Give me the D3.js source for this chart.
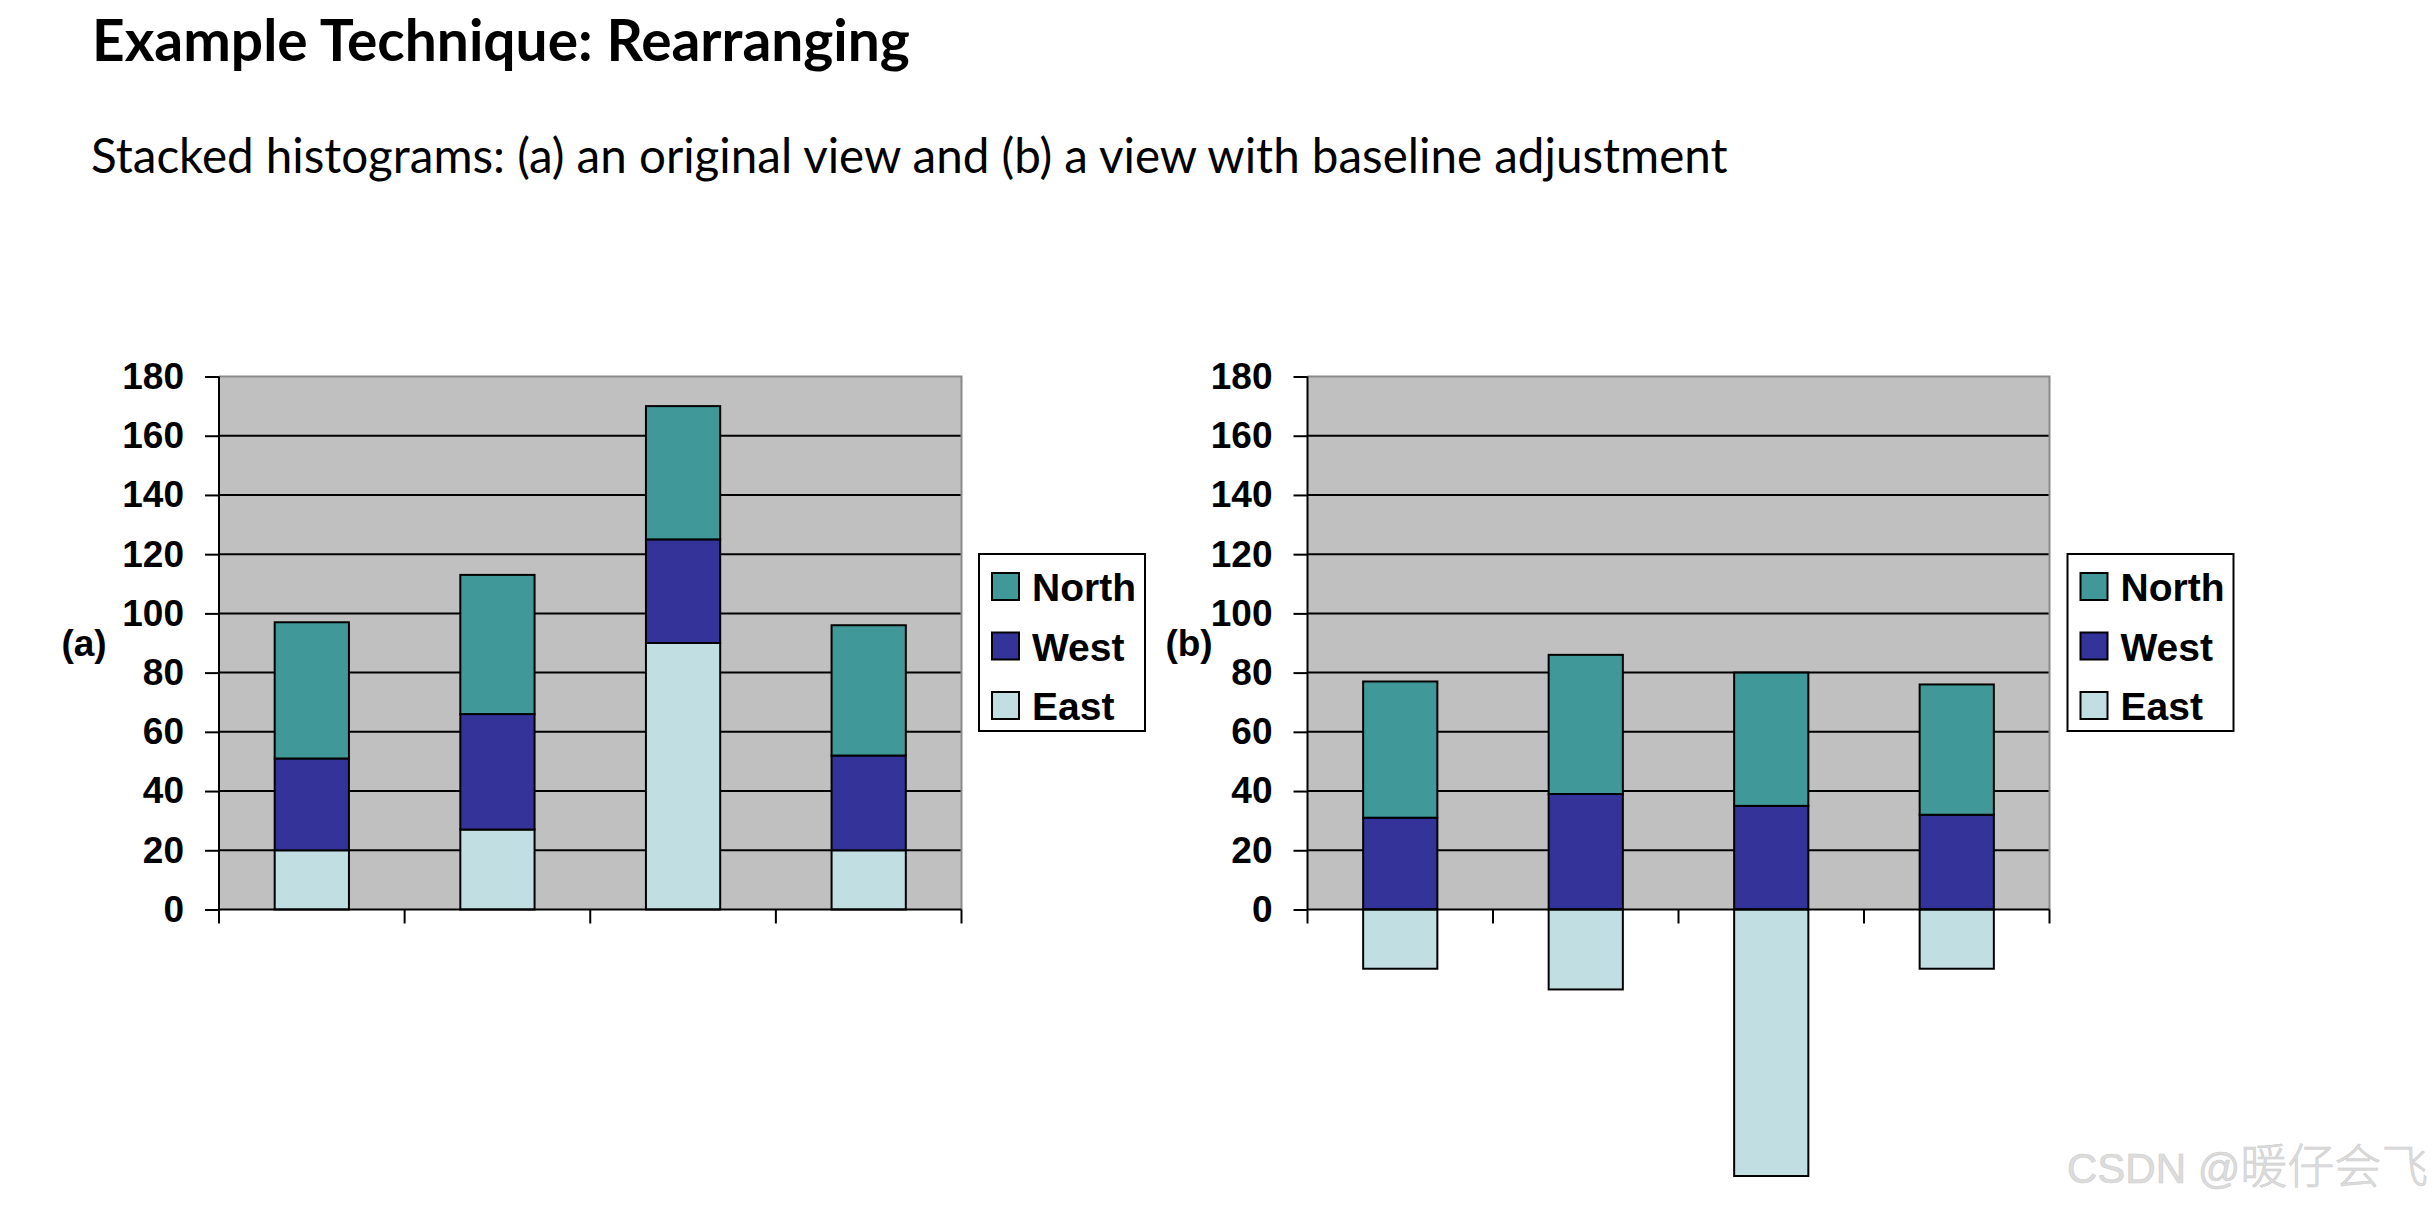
<!DOCTYPE html>
<html>
<head>
<meta charset="utf-8">
<script src="https://cdn.jsdelivr.net/npm/d3@7"></script>
<style>
  html, body { margin: 0; padding: 0; background: #ffffff; }
  svg { display: block; }
</style>
</head>
<body>
<script>
// ---------- data ----------
const categories = ["Q1", "Q2", "Q3", "Q4"];
const eastValues  = [20, 27, 90, 20];
const westValues  = [31, 39, 35, 32];
const northValues = [46, 47, 45, 44];
const yTickValues = [0, 20, 40, 60, 80, 100, 120, 140, 160, 180];
const legendLabels = ["North", "West", "East"];
const titleText = "Example Technique: Rearranging";
const subtitleText = "Stacked histograms: (a) an original view and (b) a view with baseline adjustment";
const panelLabels = ["(a)", "(b)"];
const watermarkLatin = "CSDN @";
const watermarkCJK = "暖仔会飞";

// ---------- styles ----------
const colors = { North: "#419898", West: "#333399", East: "#c1dfe3" };
const W = 2436, H = 1210;
const chartFont = "'Liberation Sans', Arial, sans-serif";

const svg = d3.select("body").append("svg")
  .attr("width", W).attr("height", H)
  .attr("viewBox", `0 0 ${W} ${H}`);
svg.append("rect").attr("width", W).attr("height", H).attr("fill", "#ffffff");

function fitText(sel, targetWidth) {
  const node = sel.node();
  const fs = parseFloat(sel.attr("font-size"));
  const w = node.getComputedTextLength();
  if (w > 0) sel.attr("font-size", (fs * targetWidth / w).toFixed(2));
}

// ---------- titles ----------
const title = svg.append("text")
  .attr("x", 92).attr("y", 61)
  .attr("font-family", "Lato, 'Open Sans', sans-serif")
  .attr("font-weight", 700).attr("font-size", 58)
  .attr("fill", "#000").text(titleText);
fitText(title, 818);

const subtitle = svg.append("text")
  .attr("x", 91).attr("y", 173)
  .attr("font-family", "Lato, 'Open Sans', sans-serif")
  .attr("font-weight", 400).attr("font-size", 48)
  .attr("fill", "#000").text(subtitleText);
fitText(subtitle, 1637);

// ---------- data rows ----------
const rows = categories.map((c, i) => ({
  cat: c, East: eastValues[i], West: westValues[i], North: northValues[i]
}));
const rowsNeg = categories.map((c, i) => ({
  cat: c, East: -eastValues[i], West: westValues[i], North: northValues[i]
}));

const stackA = d3.stack().keys(["East", "West", "North"])(rows);
const stackB = d3.stack().keys(["West", "North", "East"])
  .offset(d3.stackOffsetDiverging)(rowsNeg);

// ---------- panel drawer ----------
function drawPanel(opts) {
  const { left, right, top, bottom, stacked, label, labelX, legendX } = opts;
  const g = svg.append("g");

  const x = d3.scaleBand().domain(categories).range([left, right])
    .paddingInner(0.6).paddingOuter(0.3);
  const y = d3.scaleLinear().domain([0, 180]).range([bottom, top]);

  // plot background
  g.append("rect")
    .attr("x", left).attr("y", top)
    .attr("width", right - left).attr("height", bottom - top)
    .attr("fill", "#c0c0c0");

  // gridlines
  g.append("g").selectAll("line")
    .data(yTickValues.filter(v => v > 0 && v < 180))
    .join("line")
    .attr("x1", left).attr("x2", right)
    .attr("y1", d => y(d)).attr("y2", d => y(d))
    .attr("stroke", "#000").attr("stroke-width", 2);

  // top and right border (gray)
  g.append("path")
    .attr("d", `M${left},${y(180)}H${right}V${bottom}`)
    .attr("fill", "none").attr("stroke", "#8a8a8a").attr("stroke-width", 2);

  // bars
  const layers = g.append("g").selectAll("g")
    .data(stacked).join("g")
    .attr("fill", d => colors[d.key]);
  layers.selectAll("rect")
    .data(d => d.map(s => ({ s, cat: s.data.cat })))
    .join("rect")
    .attr("x", d => x(d.cat))
    .attr("width", x.bandwidth())
    .attr("y", d => y(Math.max(d.s[0], d.s[1])))
    .attr("height", d => Math.abs(y(d.s[0]) - y(d.s[1])))
    .attr("stroke", "#000").attr("stroke-width", 2);

  // y axis
  const yAxis = d3.axisLeft(y).tickValues(yTickValues)
    .tickSize(14).tickPadding(21).tickFormat(d3.format("d"));
  const ya = g.append("g").attr("transform", `translate(${left},0)`).call(yAxis);
  ya.select(".domain").attr("stroke", "#000").attr("stroke-width", 2)
    .attr("d", `M0,${top}V${bottom}`);
  ya.selectAll(".tick line").attr("stroke", "#000").attr("stroke-width", 2);
  ya.selectAll(".tick text")
    .attr("font-family", chartFont).attr("font-weight", 700)
    .attr("font-size", 37).attr("fill", "#000");

  // x axis at zero with boundary ticks
  const boundaries = d3.range(categories.length + 1)
    .map(i => left + i * x.step());
  const xa = g.append("g");
  xa.append("line")
    .attr("x1", left).attr("x2", right)
    .attr("y1", y(0)).attr("y2", y(0))
    .attr("stroke", "#000").attr("stroke-width", 2);
  xa.selectAll("line.tk").data(boundaries).join("line")
    .attr("class", "tk")
    .attr("x1", d => d).attr("x2", d => d)
    .attr("y1", y(0)).attr("y2", y(0) + 14)
    .attr("stroke", "#000").attr("stroke-width", 2);

  // panel label
  g.append("text")
    .attr("x", labelX).attr("y", (top + bottom) / 2)
    .attr("dy", "0.35em")
    .attr("text-anchor", "middle")
    .attr("font-family", chartFont).attr("font-weight", 700)
    .attr("font-size", 37).attr("fill", "#000")
    .text(label);

  // legend
  const lg = g.append("g").attr("transform", `translate(${legendX},554)`);
  lg.append("rect").attr("width", 166).attr("height", 177)
    .attr("fill", "#fff").attr("stroke", "#000").attr("stroke-width", 2);
  const items = lg.selectAll("g.item").data(legendLabels).join("g")
    .attr("class", "item")
    .attr("transform", (d, i) => `translate(0,${19 + i * 59.5})`);
  items.append("rect")
    .attr("x", 13).attr("width", 27).attr("height", 27)
    .attr("fill", d => colors[d])
    .attr("stroke", "#000").attr("stroke-width", 2);
  items.append("text")
    .attr("x", 53).attr("y", 28)
    .attr("font-family", chartFont).attr("font-weight", 700)
    .attr("font-size", 39).attr("fill", "#000")
    .text(d => d);
}

drawPanel({
  left: 219, right: 961.5, top: 376.5, bottom: 909.5,
  stacked: stackA, label: panelLabels[0], labelX: 84, legendX: 979
});
drawPanel({
  left: 1307.5, right: 2049.5, top: 376.5, bottom: 909.5,
  stacked: stackB, label: panelLabels[1], labelX: 1189, legendX: 2067.5
});

// watermark
const wm = svg.append("text")
  .attr("x", 2067).attr("y", 1183)
  .attr("font-family", "'Liberation Sans', 'Noto Sans CJK SC', sans-serif")
  .attr("font-size", 42)
  .attr("fill", "#dcdcdc")
  .attr("stroke", "#cccccc").attr("stroke-width", 0.6);
wm.append("tspan").text(watermarkLatin);
wm.append("tspan")
  .attr("font-family", "'Noto Sans CJK SC', sans-serif")
  .attr("font-size", 47).attr("font-weight", 300)
  .text(watermarkCJK);
</script>
</body>
</html>
